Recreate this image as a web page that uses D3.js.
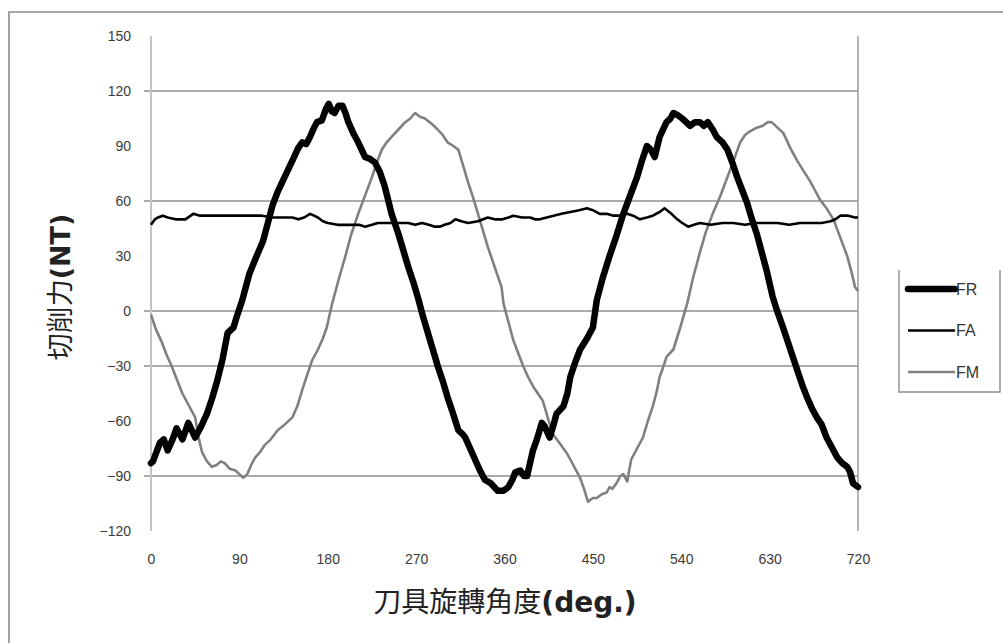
<!DOCTYPE html>
<html>
<head>
<meta charset="utf-8">
<script src="https://cdn.jsdelivr.net/npm/d3@7"></script>
<style>
  body { margin: 0; background: #fff; }
  .tick text { font-family: "Liberation Sans", Arial, sans-serif; font-size: 14px; fill: #3a3a3a; }
</style>
</head>
<body>
<div id="viz"></div>
<script>
// ticks
var xTicks = [0, 90, 180, 270, 360, 450, 540, 630, 720];
var yTicks = [-120, -90, -60, -30, 0, 30, 60, 90, 120, 150];
var gridVals = [120, 60, 0, -30, -90];

// FR (thick black)
var frDeg = [0,2,9,13,17,22,26,32,38,45,51,57,62,67,73,78,84,88,93,100,106,114,119,124,129,136,144,150,154,158,162,166,169,174,178,181,184,187,191,195,198,201,206,211,218,223,228,233,238,245,252,257,262,267,272,277,282,287,292,297,302,307,313,317,320,325,330,335,340,346,353,359,364,368,371,376,380,383,389,393,398,401,406,410,413,420,424,427,432,437,444,450,454,460,467,474,481,488,495,500,505,509,513,518,525,529,532,536,541,545,549,554,559,563,567,572,576,582,587,592,597,602,607,612,617,622,627,633,637,643,648,653,658,663,668,673,678,683,688,694,699,704,709,712,715,720];
var frVal = [-83,-82,-72,-70,-76,-70,-64,-70,-61,-69,-63,-56,-48,-39,-26,-12,-9,-2,6,20,28,38,48,58,65,73,82,89,92,91,95,100,103,104,110,113,109,108,112,112,108,103,97,92,84,83,81,76,68,53,42,33,24,16,7,-3,-12,-21,-30,-38,-47,-55,-65,-67,-69,-75,-81,-87,-92,-94,-98,-98,-96,-92,-88,-87,-90,-90,-76,-70,-61,-63,-69,-62,-56,-52,-45,-36,-28,-21,-15,-9,6,18,30,41,53,63,73,82,90,88,84,95,103,105,108,107,105,103,101,103,103,101,103,99,95,92,88,81,73,66,59,50,42,32,22,8,1,-8,-16,-24,-32,-40,-47,-53,-58,-62,-69,-75,-80,-83,-85,-88,-94,-96];

// FA (thin black)
var faDeg = [0,4,7,12,17,25,35,43,50,62,75,85,96,105,113,123,133,144,150,156,162,166,170,175,180,190,197,205,212,218,225,231,240,252,262,269,276,283,289,294,299,305,310,316,323,333,343,350,358,364,369,378,386,391,396,403,410,418,427,436,444,450,457,464,471,478,485,491,498,505,511,518,523,530,536,541,547,553,559,570,582,593,605,616,627,638,650,661,672,683,692,697,702,710,717,720];
var faVal = [47,50,51,52,51,50,50,53,52,52,52,52,52,52,52,51,51,51,50,51,53,52,51,49,48,47,47,47,47,46,47,48,48,48,48,47,48,47,46,46,47,48,50,49,48,49,51,50,50,51,52,51,51,50,50,51,52,53,54,55,56,55,53,53,52,52,53,52,50,51,52,54,56,53,50,48,46,47,48,47,48,48,47,48,48,48,47,48,48,48,49,50,52,52,51,51];

// FM (grey)
var fmDeg = [0,5,11,16,21,26,32,38,45,48,52,57,62,67,71,75,80,86,90,94,98,102,106,111,116,122,129,136,144,149,154,159,164,170,175,179,184,191,198,204,211,218,225,230,235,240,245,252,259,264,269,274,279,286,292,297,302,308,313,318,323,328,333,338,343,350,357,359,364,369,374,379,384,389,394,399,404,409,416,424,430,437,441,445,450,454,459,464,467,470,474,478,481,485,489,495,501,506,511,515,518,522,525,532,539,546,552,559,565,572,580,587,594,600,605,610,617,623,628,632,638,644,651,658,665,671,676,681,688,695,702,709,714,717,720];
var fmVal = [-2,-10,-17,-24,-30,-37,-45,-51,-58,-68,-77,-82,-85,-84,-82,-83,-86,-87,-89,-91,-89,-84,-80,-77,-73,-70,-65,-62,-58,-52,-43,-35,-27,-21,-15,-9,3,17,30,42,53,63,73,81,88,92,95,99,103,105,108,106,105,102,99,96,92,90,88,79,70,62,53,44,35,24,13,4,-6,-16,-23,-30,-36,-41,-45,-49,-58,-67,-72,-78,-84,-91,-97,-104,-102,-102,-100,-99,-96,-97,-94,-90,-89,-93,-81,-75,-69,-60,-52,-44,-36,-30,-25,-21,-9,4,18,32,43,53,63,73,83,92,96,98,100,101,103,103,100,97,89,82,76,71,66,61,56,50,40,30,20,13,11];

var seriesNames = ["FR", "FA", "FM"];

var width = 1003, height = 643;

var x = d3.scaleLinear().domain([0, 720]).range([151, 858]);
var y = d3.scaleLinear().domain([-120, 150]).range([531, 36]);

var svg = d3.select('#viz').append('svg')
    .attr('width', width)
    .attr('height', height)
    .style('display', 'block')
    .style('background', '#fff');

// outer chart border (runs off right / bottom edge)
svg.append('path')
    .attr('d', 'M9,660V12H1020')
    .attr('fill', 'none')
    .attr('stroke', '#8c8c8c')
    .attr('stroke-width', 1.6);

// horizontal gridlines
svg.append('g').selectAll('line')
    .data(gridVals)
    .enter().append('line')
    .attr('x1', x(0) - 7)
    .attr('x2', x(720))
    .attr('y1', function(d) { return y(d); })
    .attr('y2', function(d) { return y(d); })
    .attr('stroke', '#8f8f8f')
    .attr('stroke-width', 1.4);

// left axis line + right edge
svg.append('line')
    .attr('x1', x(0)).attr('x2', x(0))
    .attr('y1', y(150)).attr('y2', y(-120))
    .attr('stroke', '#c4c4c4').attr('stroke-width', 2);
svg.append('line')
    .attr('x1', x(720)).attr('x2', x(720))
    .attr('y1', y(150)).attr('y2', y(-120))
    .attr('stroke', '#a0a0a0').attr('stroke-width', 1.6);

// tick labels
var yAxis = svg.append('g')
    .attr('transform', 'translate(' + x(0) + ',0)')
    .call(d3.axisLeft(y).tickValues(yTicks).tickSize(0).tickPadding(20));
yAxis.select('.domain').remove();

var xAxis = svg.append('g')
    .attr('transform', 'translate(0,' + y(-120) + ')')
    .call(d3.axisBottom(x).tickValues(xTicks).tickSize(0).tickPadding(23));
xAxis.select('.domain').remove();

// lines
var line = d3.line()
    .x(function(d) { return x(d[0]); })
    .y(function(d) { return y(d[1]); });

function pairs(a, b) { return a.map(function(v, i) { return [v, b[i]]; }); }

var styles = {
    FR: { color: '#000', w: 6.5 },
    FA: { color: '#000', w: 2.6 },
    FM: { color: '#808080', w: 2.6 }
};

svg.append('path').datum(pairs(fmDeg, fmVal))
    .attr('d', line).attr('fill', 'none')
    .attr('stroke', styles.FM.color).attr('stroke-width', styles.FM.w)
    .attr('stroke-linejoin', 'round');
svg.append('path').datum(pairs(faDeg, faVal))
    .attr('d', line).attr('fill', 'none')
    .attr('stroke', styles.FA.color).attr('stroke-width', styles.FA.w)
    .attr('stroke-linejoin', 'round');
svg.append('path').datum(pairs(frDeg, frVal))
    .attr('d', line).attr('fill', 'none')
    .attr('stroke', styles.FR.color).attr('stroke-width', styles.FR.w)
    .attr('stroke-linejoin', 'round').attr('stroke-linecap', 'round');

// axis titles
var yTitle = svg.append('text')
    .attr('transform', 'translate(70,287) rotate(-90)')
    .attr('text-anchor', 'middle')
    .style('font-family', '"Noto Sans CJK TC", sans-serif')
    .style('font-size', '27px')
    .attr('fill', '#222');
yTitle.append('tspan').text('切削力');
yTitle.append('tspan').text('(NT)')
    .style('font-family', '"DejaVu Sans", sans-serif')
    .style('font-weight', 'bold');

var xTitle = svg.append('text')
    .attr('x', 505).attr('y', 612)
    .attr('text-anchor', 'middle')
    .style('font-family', '"Noto Sans CJK TC", sans-serif')
    .style('font-size', '28px')
    .attr('fill', '#222');
xTitle.append('tspan').text('刀具旋轉角度');
xTitle.append('tspan').text('(deg.)')
    .style('font-family', '"DejaVu Sans", sans-serif')
    .style('font-weight', 'bold');

// legend
var legend = svg.append('g');
legend.append('path')
    .attr('d', 'M899,270V392H1000V270')
    .attr('fill', 'none')
    .attr('stroke', '#8c8c8c')
    .attr('stroke-width', 1.4);

var ly = d3.scalePoint().domain(seriesNames).range([289, 372]);
var items = legend.selectAll('g.item')
    .data(seriesNames)
    .enter().append('g')
    .attr('class', 'item')
    .attr('transform', function(d) { return 'translate(0,' + ly(d) + ')'; });
items.append('line')
    .attr('x1', 908).attr('x2', 955)
    .attr('stroke', function(d) { return styles[d].color; })
    .attr('stroke-width', function(d) { return styles[d].w; })
    .attr('stroke-linecap', function(d) { return d === 'FR' ? 'round' : 'butt'; });
items.append('text')
    .attr('x', 956).attr('dy', '0.36em')
    .style('font-family', '"Liberation Sans", Arial, sans-serif')
    .style('font-size', '16px')
    .attr('fill', '#333')
    .text(function(d) { return d; });
</script>
</body>
</html>
